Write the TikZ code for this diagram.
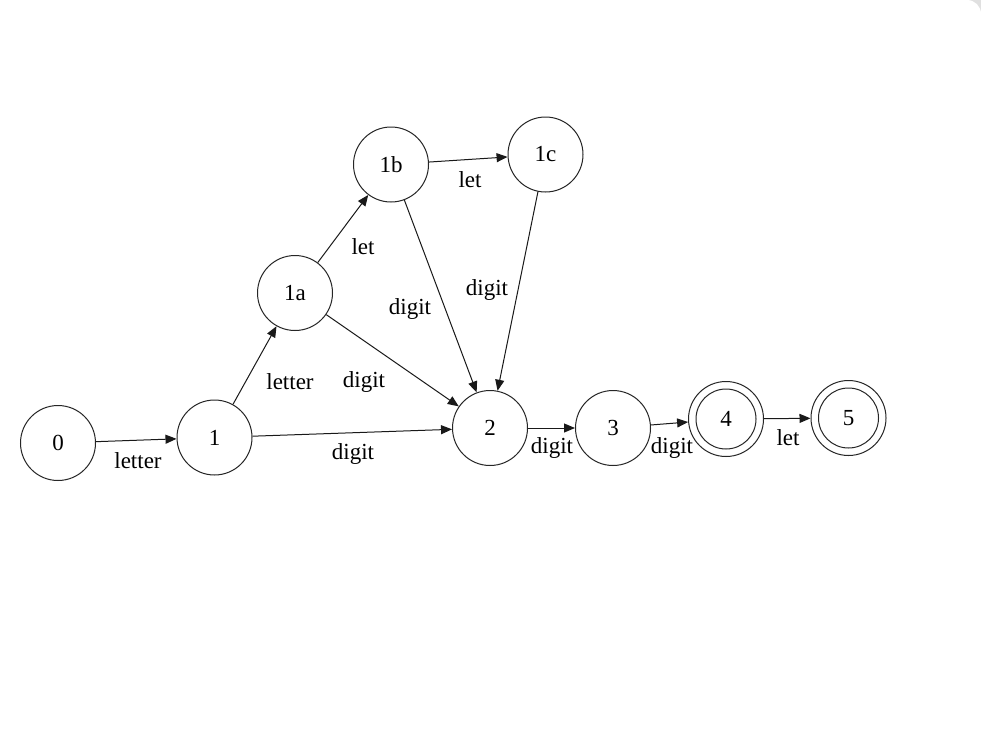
\documentclass[tikz,border=0pt]{standalone}
\usepackage{fontspec}
\setmainfont{Liberation Serif}
\usetikzlibrary{arrows.meta}
\begin{document}
\begin{tikzpicture}[x=1pt,y=-1pt,
  every node/.style={font=\fontsize{23}{27}\selectfont},
  state/.style={circle,draw=black!85,line width=1pt,minimum size=75pt,inner sep=0pt},
  accepting/.style={state},
  trans/.style={draw=black!90,line width=1pt,-{Triangle[length=11pt,width=9pt]}},
  lbl/.style={anchor=base,inner sep=0pt}]
  \useasboundingbox (0,0) rectangle (981,745);
  % page frame with the rounded top-right corner
  \begin{scope}
    \clip (0,0) rectangle (981,745);
    \fill[black!12] (0,0) rectangle (981,745);
    \fill[white,rounded corners=14pt] (-20,0) rectangle (981,765);
  \end{scope}

  % states
  \node[state] (s0)  at (58,443)    {0};
  \node[state] (s1)  at (214.5,437.5) {1};
  \node[state] (s1a) at (295,293)   {1a};
  \node[state] (s1b) at (391,164.5) {1b};
  \node[state] (s1c) at (545.5,154.5) {1c};
  \node[state] (s2)  at (490,428)   {2};
  \node[state] (s3)  at (613,428)   {3};
  \node[accepting] (s4) at (726,419) {4};
  \node[accepting] (s5) at (848.5,418) {5};
  \draw[draw=black!85,line width=1pt] (s4.center) circle[radius=30];
  \draw[draw=black!85,line width=1pt] (s5.center) circle[radius=30];

  % transitions
  \draw[trans] (s0)  -- (s1);
  \draw[trans] (s1)  -- (s1a);
  \draw[trans] (s1)  -- (s2);
  \draw[trans] (s1a) -- (s1b);
  \draw[trans] (s1a) -- (s2);
  \draw[trans] (s1b) -- (s1c);
  \draw[trans] (s1b) -- (s2);
  \draw[trans] (s1c) -- (s2);
  \draw[trans] (s2)  -- (s3);
  \draw[trans] (s3)  -- (s4);
  \draw[trans] (s4)  -- (s5);

  % transition labels
  \node[lbl] (l01)   at (138,468) {letter};
  \node[lbl] (l11a)  at (290,389) {letter};
  \node[lbl] (l12)   at (353,459) {digit};
  \node[lbl] (l1a1b) at (363,254) {let};
  \node[lbl] (l1a2)  at (364,387) {digit};
  \node[lbl] (l1b1c) at (470,187) {let};
  \node[lbl] (l1b2)  at (410,314) {digit};
  \node[lbl] (l1c2)  at (487,295) {digit};
  \node[lbl] (l23)   at (552,453) {digit};
  \node[lbl] (l34)   at (672,453) {digit};
  \node[lbl] (l45)   at (788,445) {let};
\end{tikzpicture}
\end{document}
